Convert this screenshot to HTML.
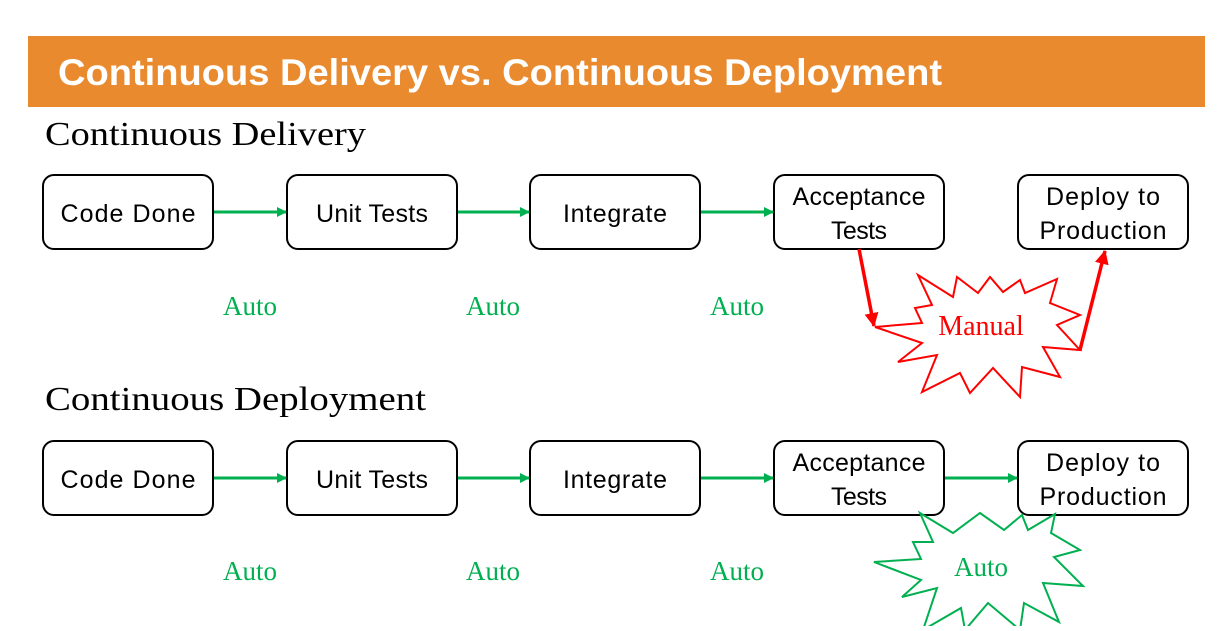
<!DOCTYPE html>
<html><head><meta charset="utf-8"><style>
body{margin:0;width:1229px;height:626px;overflow:hidden;background:#fff}
</style></head><body>
<svg width="1229" height="626" viewBox="0 0 1229 626" xmlns="http://www.w3.org/2000/svg">
<defs>
<marker id="g" markerWidth="10" markerHeight="10" refX="9" refY="5" orient="auto" markerUnits="userSpaceOnUse"><path d="M0,0 L10,5 L0,10 z" fill="#00B050"/></marker>
<marker id="r" markerWidth="14" markerHeight="14" refX="13" refY="7" orient="auto" markerUnits="userSpaceOnUse"><path d="M0,0 L14,7 L0,14 z" fill="#f00"/></marker>
</defs>
<rect x="28" y="36" width="1177" height="71" fill="#E98A2E"/>
<text x="58" y="85" font-family="Liberation Sans, sans-serif" font-weight="bold" font-size="37" fill="#fff" textLength="884" lengthAdjust="spacingAndGlyphs">Continuous Delivery vs. Continuous Deployment</text>
<g font-family="Liberation Serif, serif" font-size="34" fill="#000">
<text x="45" y="145" textLength="321" lengthAdjust="spacingAndGlyphs">Continuous Delivery</text>
<text x="45" y="410" textLength="381" lengthAdjust="spacingAndGlyphs">Continuous Deployment</text>
</g>
<g fill="#fff" stroke="#000" stroke-width="2">
<rect x="43" y="175" width="170" height="74" rx="11"/>
<rect x="287" y="175" width="170" height="74" rx="11"/>
<rect x="530" y="175" width="170" height="74" rx="11"/>
<rect x="774" y="175" width="170" height="74" rx="11"/>
<rect x="1018" y="175" width="170" height="74" rx="11"/>
<rect x="43" y="441" width="170" height="74" rx="11"/>
<rect x="287" y="441" width="170" height="74" rx="11"/>
<rect x="530" y="441" width="170" height="74" rx="11"/>
<rect x="774" y="441" width="170" height="74" rx="11"/>
<rect x="1018" y="441" width="170" height="74" rx="11"/>
</g>
<g font-family="Liberation Sans, sans-serif" font-size="25" fill="#000" text-anchor="middle" lengthAdjust="spacingAndGlyphs">
<text x="128" y="222" textLength="135">Code Done</text>
<text x="372" y="222" textLength="112">Unit Tests</text>
<text x="615" y="222" textLength="104">Integrate</text>
<text x="859" y="205" textLength="133">Acceptance</text><text x="859" y="239" textLength="56">Tests</text>
<text x="1103" y="205" textLength="114">Deploy to</text><text x="1103" y="239" textLength="127">Production</text>
<text x="128" y="488" textLength="135">Code Done</text>
<text x="372" y="488" textLength="112">Unit Tests</text>
<text x="615" y="488" textLength="104">Integrate</text>
<text x="859" y="471" textLength="133">Acceptance</text><text x="859" y="505" textLength="56">Tests</text>
<text x="1103" y="471" textLength="114">Deploy to</text><text x="1103" y="505" textLength="127">Production</text>
</g>
<g stroke="#00B050" stroke-width="3" marker-end="url(#g)">
<line x1="214" y1="212" x2="286" y2="212"/>
<line x1="458" y1="212" x2="529" y2="212"/>
<line x1="701" y1="212" x2="773" y2="212"/>
<line x1="214" y1="478" x2="286" y2="478"/>
<line x1="458" y1="478" x2="529" y2="478"/>
<line x1="701" y1="478" x2="773" y2="478"/>
<line x1="945" y1="478" x2="1017" y2="478"/>
</g>
<polygon fill="#fff" stroke="#f00" stroke-width="2" points="875,327 922,323 915,308 932,305 918,275 953,297 957,277 978,293 990,277 1003,292 1020,280 1025,293 1057,279 1050,303 1080,315 1057,325 1080,350 1043,347 1060,377 1022,367 1020,397 993,368 970,393 960,373 922,392 937,355 898,362 922,343"/>
<g stroke="#f00" stroke-width="3.5" marker-end="url(#r)">
<line x1="859" y1="249" x2="874" y2="326"/>
<line x1="1080" y1="350" x2="1105" y2="251"/>
</g>
<text x="981" y="335" font-family="Liberation Serif, serif" font-size="28" fill="#f00" text-anchor="middle">Manual</text>
<polygon fill="#fff" stroke="#00B050" stroke-width="2" points="920,513 953,533 980,513 1004,530 1022,515 1028,530 1055,514 1051,533 1080,550 1054,557 1083,586 1043,583 1059,622 1024,603 1020,630 988,603 965,630 961,608 923,630 937,588 902,597 921,580 874,562 921,559 913,542 933,542"/>
<g font-family="Liberation Serif, serif" font-size="27" fill="#00B050" text-anchor="middle">
<text x="250" y="315">Auto</text>
<text x="493" y="315">Auto</text>
<text x="737" y="315">Auto</text>
<text x="250" y="580">Auto</text>
<text x="493" y="580">Auto</text>
<text x="737" y="580">Auto</text>
<text x="981" y="576">Auto</text>
</g>
</svg>
</body></html>
